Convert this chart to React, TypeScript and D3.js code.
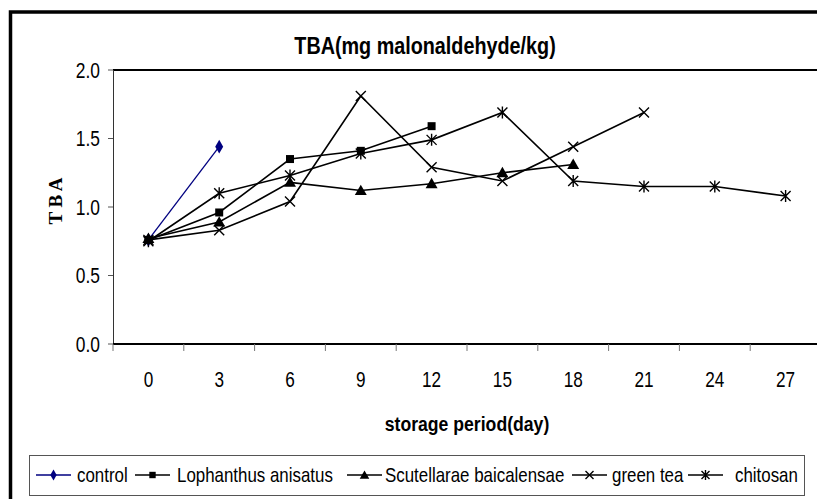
import React from "react";
import * as d3 from "d3";

const days = ["0", "3", "6", "9", "12", "15", "18", "21", "24", "27"];
const yTicks = [0, 0.5, 1.0, 1.5, 2.0];
const control = [0.76, 1.44];
const lophanthus = [0.76, 0.96, 1.35, 1.41, 1.59];
const scutellarae = [0.77, 0.89, 1.18, 1.12, 1.17, 1.25, 1.31];
const greenTea = [0.76, 0.83, 1.04, 1.81, 1.29, 1.19, 1.44, 1.69];
const chitosan = [0.75, 1.1, 1.23, 1.39, 1.49, 1.69, 1.19, 1.15, 1.15, 1.08];
const seriesNames = ["control", "Lophanthus anisatus", "Scutellarae baicalensae", "green tea", "chitosan"];

const W = 817;
const H = 499;
const FONT = "'Liberation Sans', Arial, sans-serif";

type MarkerKind = "diamond" | "square" | "triangle" | "x" | "star";

function Marker({ kind, x, y, color, s = 1 }: { kind: MarkerKind; x: number; y: number; color: string; s?: number }) {
  if (kind === "diamond") {
    return <path d={d3.symbol(d3.symbolDiamond, 55 * s * s)()!} transform={`translate(${x},${y})`} fill={color} />;
  }
  if (kind === "square") {
    return <path d={d3.symbol(d3.symbolSquare, 64 * s * s)()!} transform={`translate(${x},${y})`} fill={color} />;
  }
  if (kind === "triangle") {
    return <path d={d3.symbol(d3.symbolTriangle, 62 * s * s)()!} transform={`translate(${x},${y + 1})`} fill={color} />;
  }
  const r = 5 * s;
  const p = d3.path();
  p.moveTo(-r, -r); p.lineTo(r, r);
  p.moveTo(-r, r); p.lineTo(r, -r);
  if (kind === "star") {
    p.moveTo(0, -r - 1); p.lineTo(0, r + 1);
  }
  return <path d={p.toString()} transform={`translate(${x},${y})`} stroke={color} strokeWidth={1.4} fill="none" />;
}

function SText({
  x, y, children, size, sx, anchor = "start", bold = false,
}: { x: number; y: number; children: React.ReactNode; size: number; sx: number; anchor?: string; bold?: boolean }) {
  return (
    <text
      transform={`translate(${x},${y}) scale(${sx},1)`}
      textAnchor={anchor as any}
      fontFamily={FONT}
      fontSize={size}
      fontWeight={bold ? "bold" : "normal"}
      fill="#000"
    >
      {children}
    </text>
  );
}

export default function App() {
  const x = d3.scaleBand<string>().domain(days).range([113, 821]).padding(0);
  const y = d3.scaleLinear().domain([0, 2]).range([344, 70]);
  const cx = (i: number) => (x(days[i]) as number) + x.bandwidth() / 2;

  const series = [
    { name: seriesNames[0], values: control, color: "#000080", kind: "diamond" as MarkerKind, width: 1.3 },
    { name: seriesNames[1], values: lophanthus, color: "#000000", kind: "square" as MarkerKind, width: 1.6 },
    { name: seriesNames[2], values: scutellarae, color: "#000000", kind: "triangle" as MarkerKind, width: 1.6 },
    { name: seriesNames[3], values: greenTea, color: "#000000", kind: "x" as MarkerKind, width: 1.6 },
    { name: seriesNames[4], values: chitosan, color: "#000000", kind: "star" as MarkerKind, width: 1.6 },
  ];

  const line = d3.line<number>().x((_, i) => cx(i)).y((d) => y(d));

  const legendPos = [
    { lx: 36, tx: 77 },
    { lx: 135, tx: 177 },
    { lx: 347, tx: 385 },
    { lx: 572, tx: 612 },
    { lx: 688, tx: 735 },
  ];
  const legendY = 475;

  const bounds = d3.range(days.length + 1).map((i) => 113 + i * x.bandwidth());

  return (
    <svg width={W} height={H} style={{ position: "absolute", left: 0, top: 0 }}>
      <rect x={0} y={0} width={W} height={H} fill="#fff" />
      {/* outer frame */}
      <rect x={10.5} y={12} width={W + 20} height={H + 20} fill="none" stroke="#000" strokeWidth={3.5} />
      {/* title */}
      <SText x={425} y={54} size={23} sx={0.86} anchor="middle" bold>
        TBA(mg malonaldehyde/kg)
      </SText>
      {/* plot top border */}
      <line x1={113} x2={W} y1={70} y2={70} stroke="#000" strokeWidth={2} />
      {/* y axis */}
      <line x1={113.5} x2={113.5} y1={70} y2={344} stroke="#333" strokeWidth={1} />
      {yTicks.map((t) => (
        <g key={t}>
          <line x1={108} x2={113} y1={y(t)} y2={y(t)} stroke="#555" strokeWidth={1} />
          <SText x={100} y={y(t) + 7.5} size={22} sx={0.79} anchor="end">
            {t.toFixed(1)}
          </SText>
        </g>
      ))}
      {/* x axis */}
      <line x1={113} x2={W} y1={344} y2={344} stroke="#000" strokeWidth={2} />
      {bounds.map((b, i) => (
        <line key={i} x1={b} x2={b} y1={344} y2={351} stroke="#777" strokeWidth={1} />
      ))}
      {days.map((d, i) => (
        <SText key={d} x={cx(i)} y={387} size={22} sx={0.78} anchor="middle">
          {d}
        </SText>
      ))}
      {/* axis titles */}
      <SText x={467} y={431} size={21} sx={0.84} anchor="middle" bold>
        storage period(day)
      </SText>
      <text
        transform="translate(62,201) rotate(-90)"
        textAnchor="middle"
        fontFamily="'Liberation Serif', 'Times New Roman', serif"
        fontWeight="bold"
        fontSize={19}
      >
        T B A
      </text>
      {/* series */}
      {series.map((s) => (
        <g key={s.name}>
          <path d={line(s.values)!} fill="none" stroke={s.color} strokeWidth={s.width} />
          {s.values.map((v, i) => (
            <Marker key={i} kind={s.kind} x={cx(i)} y={y(v)} color={s.color} />
          ))}
        </g>
      ))}
      {/* legend */}
      <rect x={29.5} y={455.5} width={775} height={40} fill="#fff" stroke="#555" strokeWidth={1} />
      {series.map((s, i) => (
        <g key={s.name}>
          <line x1={legendPos[i].lx} x2={legendPos[i].lx + 35} y1={legendY} y2={legendY} stroke={s.color} strokeWidth={1.4} />
          <Marker kind={s.kind} x={legendPos[i].lx + 17.5} y={legendY} color={s.color} s={0.8} />
          <SText x={legendPos[i].tx} y={legendY + 7} size={20} sx={0.845}>
            {s.name}
          </SText>
        </g>
      ))}
    </svg>
  );
}
